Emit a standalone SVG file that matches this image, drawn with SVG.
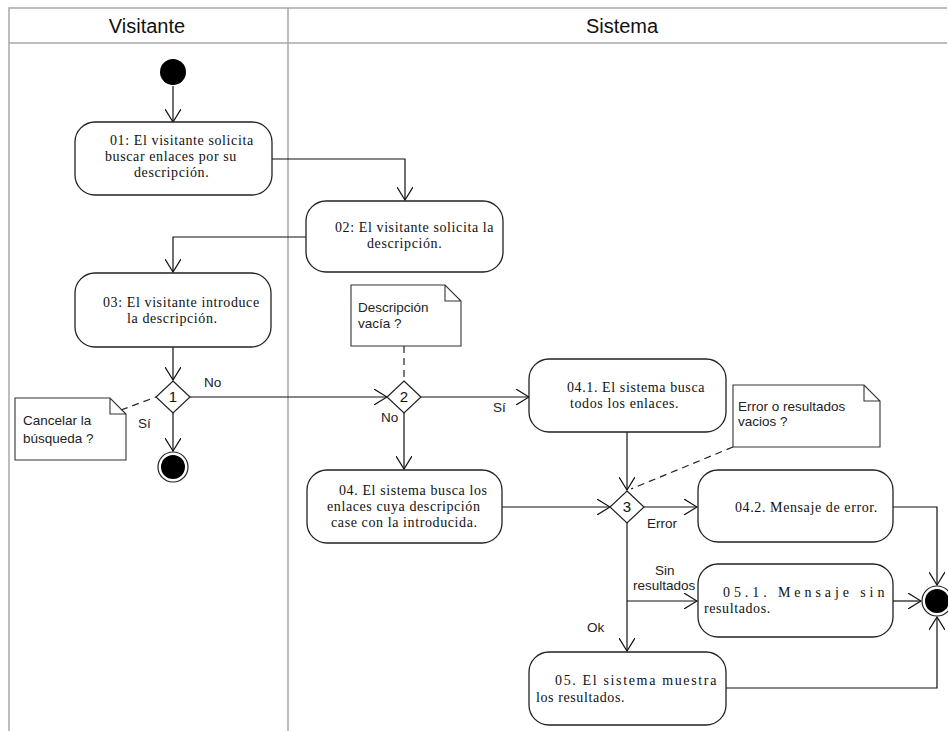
<svg xmlns="http://www.w3.org/2000/svg" width="948" height="731" viewBox="0 0 948 731">
<defs>
<marker id="arr" viewBox="0 0 14 16" refX="13" refY="8" markerWidth="14" markerHeight="16" markerUnits="userSpaceOnUse" orient="auto">
<path d="M0,0 L13,8 L0,16" fill="none" stroke="#111" stroke-width="1.2"/>
</marker>
<style>
.lane{fill:none;stroke:#a8a8a8;stroke-width:1.5}
.hdr{font-family:"Liberation Sans",Arial,sans-serif;font-size:20px;fill:#111;text-anchor:middle}
.box{fill:#fff;stroke:#222;stroke-width:1.3}
.bt{font-family:"Liberation Serif","Times New Roman",serif;font-size:14px;letter-spacing:0.6px;fill:#111}
.note{fill:#fff;stroke:#333;stroke-width:1.1}
.nt{font-family:"Liberation Sans",Arial,sans-serif;font-size:13.5px;fill:#222}
.lbl{font-family:"Liberation Sans",Arial,sans-serif;font-size:13.5px;fill:#222}
.dia{fill:#fff;stroke:#222;stroke-width:1.2}
.dt{font-family:"Liberation Sans",Arial,sans-serif;font-size:15px;fill:#111;text-anchor:middle}
.con{fill:none;stroke:#111;stroke-width:1.2}
.arr{marker-end:url(#arr)}
.dash{fill:none;stroke:#222;stroke-width:1.2;stroke-dasharray:7,5}
</style>
</defs>
<rect width="948" height="731" fill="#fff"/>
<g id="swimlanes">
<path class="lane" d="M9,731 V8 H947 M9,43 H947 M288,8 V731"/>
<text class="hdr" x="147" y="33">Visitante</text>
<text class="hdr" x="622" y="33">Sistema</text>
</g>
<g id="connectors">
<path class="con arr" d="M173,86 V122"/>
<path class="con arr" d="M272,159 H405 V200"/>
<path class="con arr" d="M306,237 H173 V272"/>
<path class="con arr" d="M173,347 V380"/>
<path class="con arr" d="M190,397 H387"/>
<path class="con arr" d="M173,413 V451"/>
<path class="con arr" d="M421,397 H529"/>
<path class="con arr" d="M404,413 V469"/>
<path class="con arr" d="M627,432 V490"/>
<path class="con arr" d="M502,507 H610"/>
<path class="con arr" d="M644,507 H697"/>
<path class="con arr" d="M627,523 V651"/>
<path class="con arr" d="M627,601 H697"/>
<path class="con arr" d="M893,507 H937 V585"/>
<path class="con arr" d="M893,601 H921"/>
<path class="con arr" d="M726,688 H937 V617"/>
<path class="dash" d="M121,410 L156,397"/>
<path class="dash" d="M404,346 V380"/>
<path class="dash" d="M733,447 L631,489"/>
<text class="lbl" x="204" y="387">No</text>
<text class="lbl" x="138" y="428">Sí</text>
<text class="lbl" x="381" y="422">No</text>
<text class="lbl" x="493" y="412">Sí</text>
<text class="lbl" x="647" y="528">Error</text>
<text class="lbl" x="655" y="575">Sin</text>
<text class="lbl" x="633" y="590">resultados</text>
<text class="lbl" x="587" y="632">Ok</text>
</g>
<g id="start">
<circle cx="173" cy="72" r="13" fill="#000"/>
</g>
<g id="a01">
<rect class="box" x="75" y="122" width="197" height="73" rx="20"/>
<text class="bt" x="110" y="145">01: El visitante solicita</text>
<text class="bt" x="105" y="161">buscar enlaces por su</text>
<text class="bt" x="134" y="177">descripción.</text>
</g>
<g id="a02">
<rect class="box" x="306" y="201" width="197" height="71" rx="20"/>
<text class="bt" x="335" y="232">02: El visitante solicita la</text>
<text class="bt" x="367" y="248">descripción.</text>
</g>
<g id="a03">
<rect class="box" x="75" y="273" width="196" height="74" rx="20"/>
<text class="bt" x="103" y="307">03: El visitante introduce</text>
<text class="bt" x="127" y="323">la descripción.</text>
</g>
<g id="d1">
<path class="dia" d="M173,381 L190,397 L173,413 L156,397 Z"/>
<text class="dt" x="173" y="402">1</text>
</g>
<g id="note-cancelar">
<path class="note" d="M15,398 H110 L126,414 V460 H15 Z M110,398 V414 H126"/>
<text class="nt" x="23" y="425">Cancelar la</text>
<text class="nt" x="23" y="443">búsqueda ?</text>
</g>
<g id="end1">
<circle cx="173" cy="467" r="15" fill="#fff" stroke="#222" stroke-width="1.2"/>
<circle cx="173" cy="467" r="12" fill="#000"/>
</g>
<g id="note-vacia">
<path class="note" d="M351,285 H445 L461,301 V346 H351 Z M445,285 V301 H461"/>
<text class="nt" x="358" y="312">Descripción</text>
<text class="nt" x="358" y="328">vacía ?</text>
</g>
<g id="d2">
<path class="dia" d="M404,381 L421,397 L404,413 L387,397 Z"/>
<text class="dt" x="404" y="402">2</text>
</g>
<g id="a041">
<rect class="box" x="529" y="359" width="197" height="73" rx="20"/>
<text class="bt" x="567" y="392">04.1. El sistema busca</text>
<text class="bt" x="570" y="408">todos los enlaces.</text>
</g>
<g id="note-error">
<path class="note" d="M733,385 H864 L880,401 V447 H733 Z M864,385 V401 H880"/>
<text class="nt" x="738" y="411">Error o resultados</text>
<text class="nt" x="738" y="426">vacios ?</text>
</g>
<g id="a04">
<rect class="box" x="307" y="470" width="195" height="73" rx="20"/>
<text class="bt" x="339" y="495">04. El sistema busca los</text>
<text class="bt" x="327" y="511">enlaces cuya descripción</text>
<text class="bt" x="331" y="527">case con la introducida.</text>
</g>
<g id="d3">
<path class="dia" d="M627,491 L644,507 L627,523 L610,507 Z"/>
<text class="dt" x="627" y="512">3</text>
</g>
<g id="a042">
<rect class="box" x="698" y="470" width="195" height="72" rx="20"/>
<text class="bt" x="735" y="512">04.2. Mensaje de error.</text>
</g>
<g id="a051">
<rect class="box" x="698" y="564" width="195" height="73" rx="20"/>
<text class="bt" x="723" y="597" textLength="162" lengthAdjust="spacing">05.1. Mensaje sin</text>
<text class="bt" x="704" y="613">resultados.</text>
</g>
<g id="a05">
<rect class="box" x="529" y="652" width="197" height="73" rx="20"/>
<text class="bt" x="555" y="685" textLength="162" lengthAdjust="spacing">05. El sistema muestra</text>
<text class="bt" x="536" y="702">los resultados.</text>
</g>
<g id="end2">
<circle cx="937" cy="601" r="15" fill="#fff" stroke="#222" stroke-width="1.2"/>
<circle cx="937" cy="601" r="12" fill="#000"/>
</g>
</svg>
